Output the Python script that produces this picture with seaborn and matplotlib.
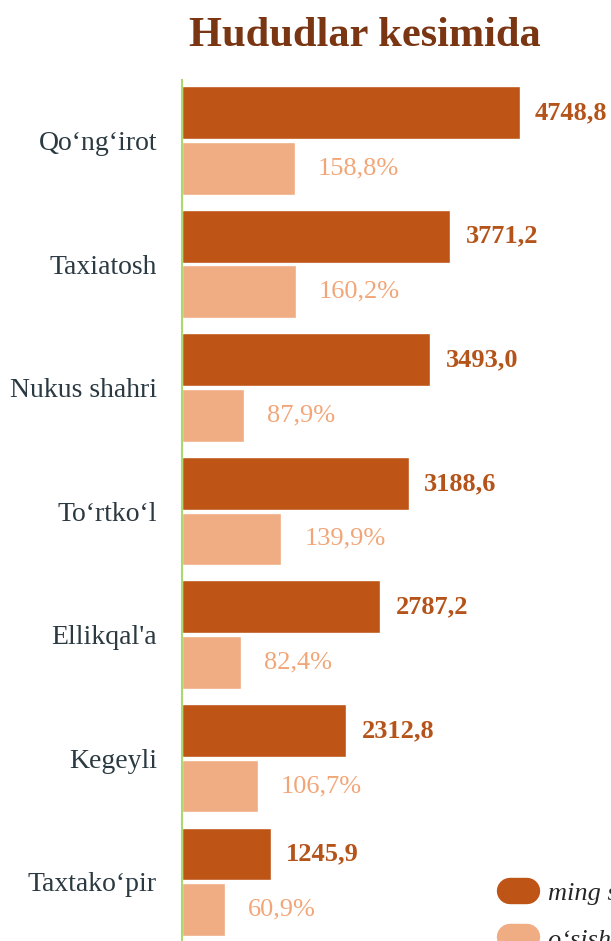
import matplotlib
matplotlib.use('Agg')
import matplotlib.pyplot as plt
import pandas as pd
import seaborn as sns
from matplotlib.lines import Line2D

# Data
regions = ['Qo‘ng‘irot', 'Taxiatosh', 'Nukus shahri', 'To‘rtko‘l',
           "Ellikqal'a", 'Kegeyli', 'Taxtako‘pir']
values = [4748.8, 3771.2, 3493.0, 3188.6, 2787.2, 2312.8, 1245.9]
growth = [158.8, 160.2, 87.9, 139.9, 82.4, 106.7, 60.9]
series_names = ['ming so‘m', 'o‘sish sur’ati, %']

dark = '#BE5516'
light = '#F0AC82'

df = pd.DataFrame({
    'region': regions * 2,
    'series': [series_names[0]] * len(regions) + [series_names[1]] * len(regions),
    # growth drawn on the same axis, scaled x10
    'value': values + [g * 10 for g in growth],
})

sns.set_style('white')
plt.rcParams['font.family'] = ['Liberation Serif', 'DejaVu Serif']

fig = plt.figure(figsize=(6.11, 9.41), dpi=100)
ax = fig.add_axes([182 / 611, 0, 1 - 182 / 611, 1 - 80 / 941])

sns.barplot(data=df, y='region', x='value', hue='series', orient='h',
            palette=[dark, light], saturation=1, width=0.9, gap=0.05,
            dodge=True, ax=ax, legend=False)

ax.set_xlim(0, 6034)
ax.set_ylim(6.48, -0.49)

ax.bar_label(ax.containers[0], labels=[f'{v:.1f}'.replace('.', ',') for v in values],
             padding=11, color='#B5541A', fontsize=19, fontweight='bold')
ax.bar_label(ax.containers[1], labels=[f'{g:.1f}%'.replace('.', ',') for g in growth],
             padding=16.5, color='#F2A678', fontsize=19)

for s in ['top', 'right', 'bottom']:
    ax.spines[s].set_visible(False)
ax.spines['left'].set_color('#ACD86E')
ax.spines['left'].set_linewidth(1.5)
ax.set_xticks([])
ax.set_xlabel('')
ax.set_ylabel('')
ax.tick_params(axis='y', length=0, pad=18, labelsize=20, labelcolor='#2B3A42')

fig.text(0.597, 0.962, 'Hududlar kesimida', ha='center', va='center',
         fontsize=30.5, fontweight='bold', color='#7A3512')

handles = [Line2D([0], [0], color=c, lw=19, solid_capstyle='round') for c in [dark, light]]
fig.legend(handles, series_names, loc='upper left',
           bbox_to_anchor=(510 / 611, 1 - 882 / 941), frameon=False,
           prop={'style': 'italic', 'size': 19}, handlelength=0.65,
           labelspacing=0.85, borderaxespad=0, borderpad=0, handletextpad=0.8)

fig.savefig('out.png', dpi=100)
